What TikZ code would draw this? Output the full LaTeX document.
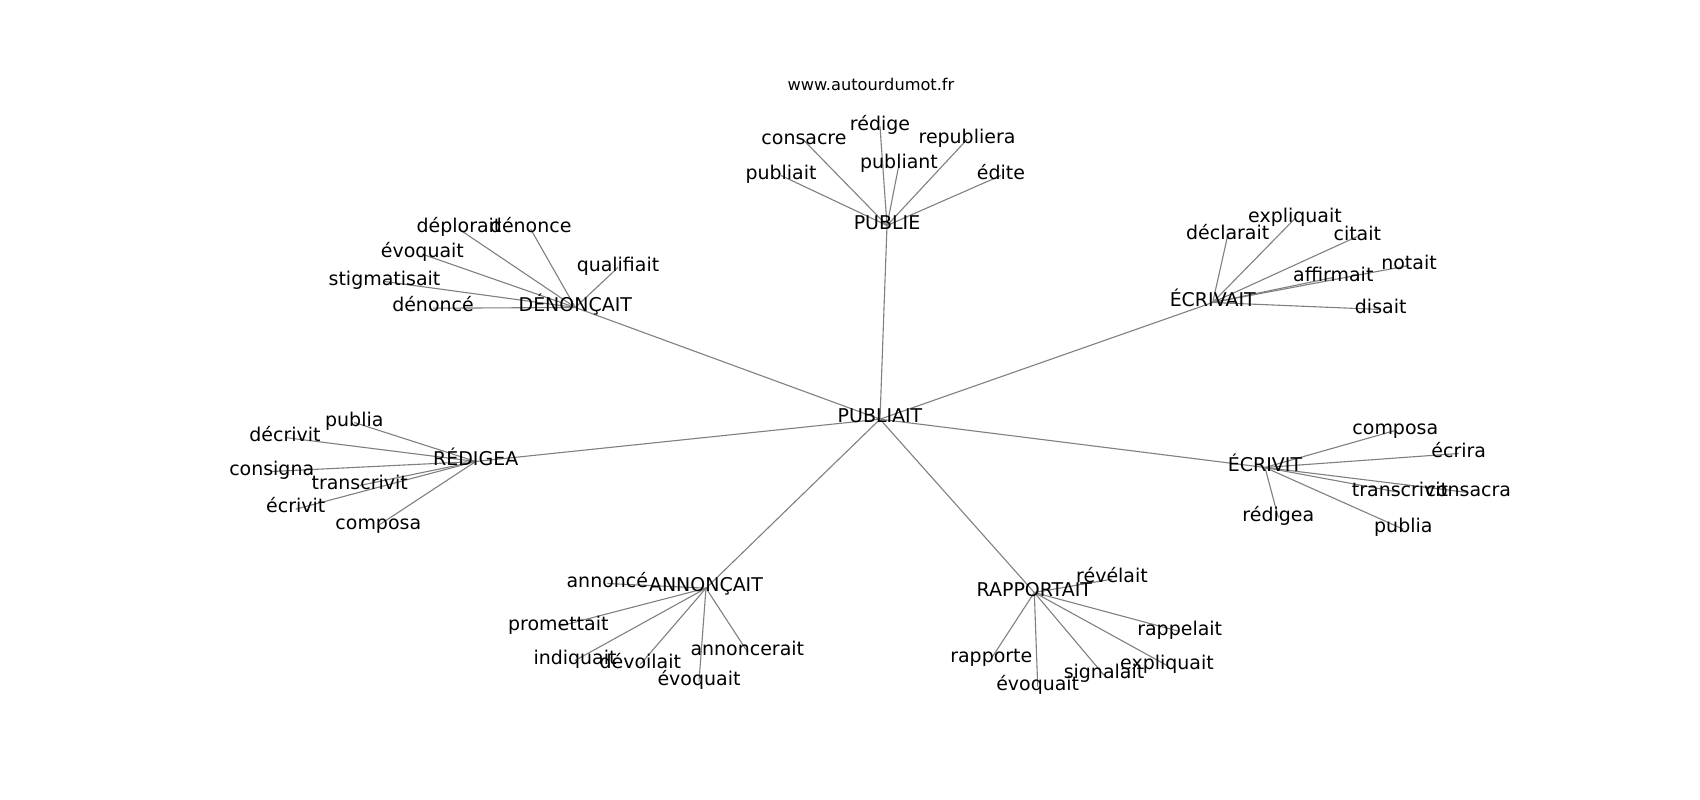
\documentclass[tikz,border=0pt]{standalone}
\usepackage{fontspec}
\setmainfont{DejaVu Sans}
\usepackage{tikz}
\usepackage{xcolor}
\pgfdeclarelayer{bg}
\pgfsetlayers{bg,main}
\tikzstyle{word} = [inner sep=0pt, yshift=-1.8pt, text height=0.76em, text depth=0.24em, font=\fontsize{13.7}{16}\selectfont]
\tikzstyle{edge} = [gray, line width=0.8pt]

\begin{document}
\begin{tikzpicture}[x=0.01in, y=-0.01in]
\useasboundingbox (0,0) rectangle (1700,800);
\tikzset{every node/.style={word}}
\node[font=\fontsize{11.7}{14}\selectfont] (title) at (871,84) {www.autourdumot.fr};

\node (pa) at (880,416.7) {PUBLIAIT};

\node (pe) at (887,223) {PUBLIE};
\node (pe1) at (781,173) {publiait};
\node (pe2) at (804,138) {consacre};
\node (pe3) at (880,124) {rédige};
\node (pe4) at (899,162) {publiant};
\node (pe5) at (967,137) {republiera};
\node (pe6) at (1001,173) {édite};

\node (ev) at (1212.7,300) {ÉCRIVAIT};
\node (ev1) at (1227.7,233) {déclarait};
\node (ev2) at (1295,216) {expliquait};
\node (ev3) at (1357.3,234) {citait};
\node (ev4) at (1409,263) {notait};
\node (ev5) at (1333.3,275) {affirmait};
\node (ev6) at (1380.7,307) {disait};

\node (dn) at (575.3,305) {DÉNONÇAIT};
\node (dn1) at (459,226.7) {déplorait};
\node (dn2) at (530.7,226.7) {dénonce};
\node (dn3) at (422.4,251.7) {évoquait};
\node (dn4) at (618,265) {qualifiait};
\node (dn5) at (384.5,279) {stigmatisait};
\node (dn6) at (433,305.7) {dénoncé};

\node (rd) at (475.7,459) {RÉDIGEA};
\node (rd1) at (354.3,420) {publia};
\node (rd2) at (285,435) {décrivit};
\node (rd3) at (271.7,469) {consigna};
\node (rd4) at (359.7,483) {transcrivit};
\node (rd5) at (295.7,506.7) {écrivit};
\node (rd6) at (378.3,523) {composa};

\node (ei) at (1265,465) {ÉCRIVIT};
\node (ei1) at (1395.3,428) {composa};
\node (ei2) at (1458.7,451) {écrira};
\node (ei3) at (1400,490) {transcrivit};
\node (ei4) at (1468.3,490) {consacra};
\node (ei5) at (1278.3,515) {rédigea};
\node (ei6) at (1403.3,526.7) {publia};

\node (an) at (706,585.7) {ANNONÇAIT};
\node (an1) at (607.3,581) {annoncé};
\node (an2) at (558.3,624) {promettait};
\node (an3) at (575,658) {indiquait};
\node (an4) at (640.3,662) {dévoilait};
\node (an5) at (747.3,649) {annoncerait};
\node (an6) at (699,679) {évoquait};

\node (ra) at (1034.3,590) {RAPPORTAIT};
\node (ra1) at (1112,576.7) {révélait};
\node (ra2) at (1179.7,629) {rappelait};
\node (ra3) at (991.3,656) {rapporte};
\node (ra4) at (1167,663) {expliquait};
\node (ra5) at (1104,672.7) {signalait};
\node (ra6) at (1037.7,684) {évoquait};

\begin{pgfonlayer}{bg}
\foreach \hub in {pe,ev,dn,rd,ei,an,ra}
{
	\draw[edge] (pa.center) -- (\hub.center);
	\foreach \i in {1,...,6}
		\draw[edge] (\hub.center) -- (\hub\i.center);
}
\end{pgfonlayer}
\end{tikzpicture}
\end{document}
